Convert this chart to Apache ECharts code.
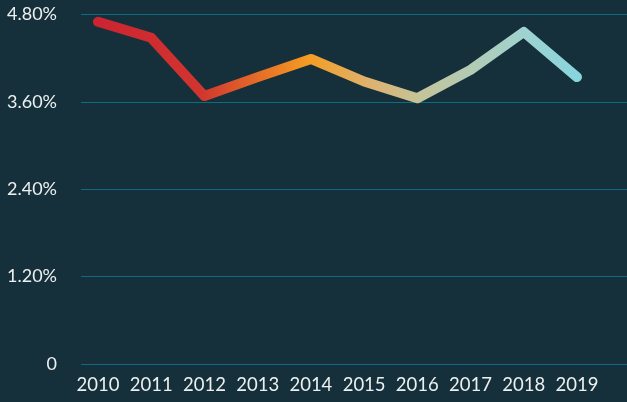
<!DOCTYPE html>
<html>
<head>
<meta charset="utf-8">
<script src="https://cdn.jsdelivr.net/npm/echarts@6/dist/echarts.min.js"></script>
<style>
  html, body { margin: 0; padding: 0; background: #15303a; }
  #main { width: 627px; height: 402px; }
</style>
</head>
<body>
<div id="main"></div>
<script>
// data
var years = ['2010', '2011', '2012', '2013', '2014', '2015', '2016', '2017', '2018', '2019'];
var rates = [4.70, 4.48, 3.68, 3.94, 4.19, 3.88, 3.65, 4.04, 4.56, 3.94];
var yTicks = [0, 1.2, 2.4, 3.6, 4.8];

var chartDom = document.getElementById('main');
var myChart = echarts.init(chartDom);
var font = 'Lato, "Open Sans", sans-serif';

var option = {
    backgroundColor: '#15303a',
    animation: false,
    grid: [
        // the line itself
        { left: 98, right: 50, top: 14.5, bottom: 38 },
        // wider grid only for the y labels and split lines
        { left: 81, right: 0, top: 14.5, bottom: 38 }
    ],
    xAxis: [
        {
            type: 'category',
            gridIndex: 0,
            data: years,
            boundaryGap: false,
            axisLine: { show: false },
            axisTick: { show: false },
            axisLabel: { color: '#ecf0f0', fontSize: 18.5, fontFamily: font, margin: 12, interval: 0, hideOverlap: false }
        },
        {
            type: 'category',
            gridIndex: 1,
            data: years,
            show: false
        }
    ],
    yAxis: [
        {
            type: 'value',
            gridIndex: 0,
            min: yTicks[0],
            max: yTicks[yTicks.length - 1],
            interval: 1.2,
            show: false
        },
        {
            type: 'value',
            gridIndex: 1,
            min: yTicks[0],
            max: yTicks[yTicks.length - 1],
            interval: 1.2,
            axisLine: { show: false },
            axisTick: { show: false },
            axisLabel: {
                color: '#ecf0f0',
                fontSize: 18,
                fontFamily: font,
                margin: 24,
                formatter: function (v) {
                    return v === 0 ? '0' : v.toFixed(2) + '%';
                }
            },
            splitLine: { lineStyle: { color: '#0f6b80', width: 1 } }
        }
    ],
    series: [
        {
            type: 'line',
            xAxisIndex: 0,
            yAxisIndex: 0,
            data: rates,
            symbol: 'none',
            lineStyle: {
                width: 10,
                cap: 'round',
                join: 'round',
                color: new echarts.graphic.LinearGradient(0, 0, 1, 0, [
                    { offset: 0, color: '#cc2331' },
                    { offset: 0.22, color: '#d1352f' },
                    { offset: 0.44, color: '#f49d22' },
                    { offset: 0.56, color: '#dfb16c' },
                    { offset: 0.67, color: '#c4c49a' },
                    { offset: 0.89, color: '#9dd3d2' },
                    { offset: 1, color: '#85d5de' }
                ])
            }
        }
    ]
};

option && myChart.setOption(option);
</script>
</body>
</html>
